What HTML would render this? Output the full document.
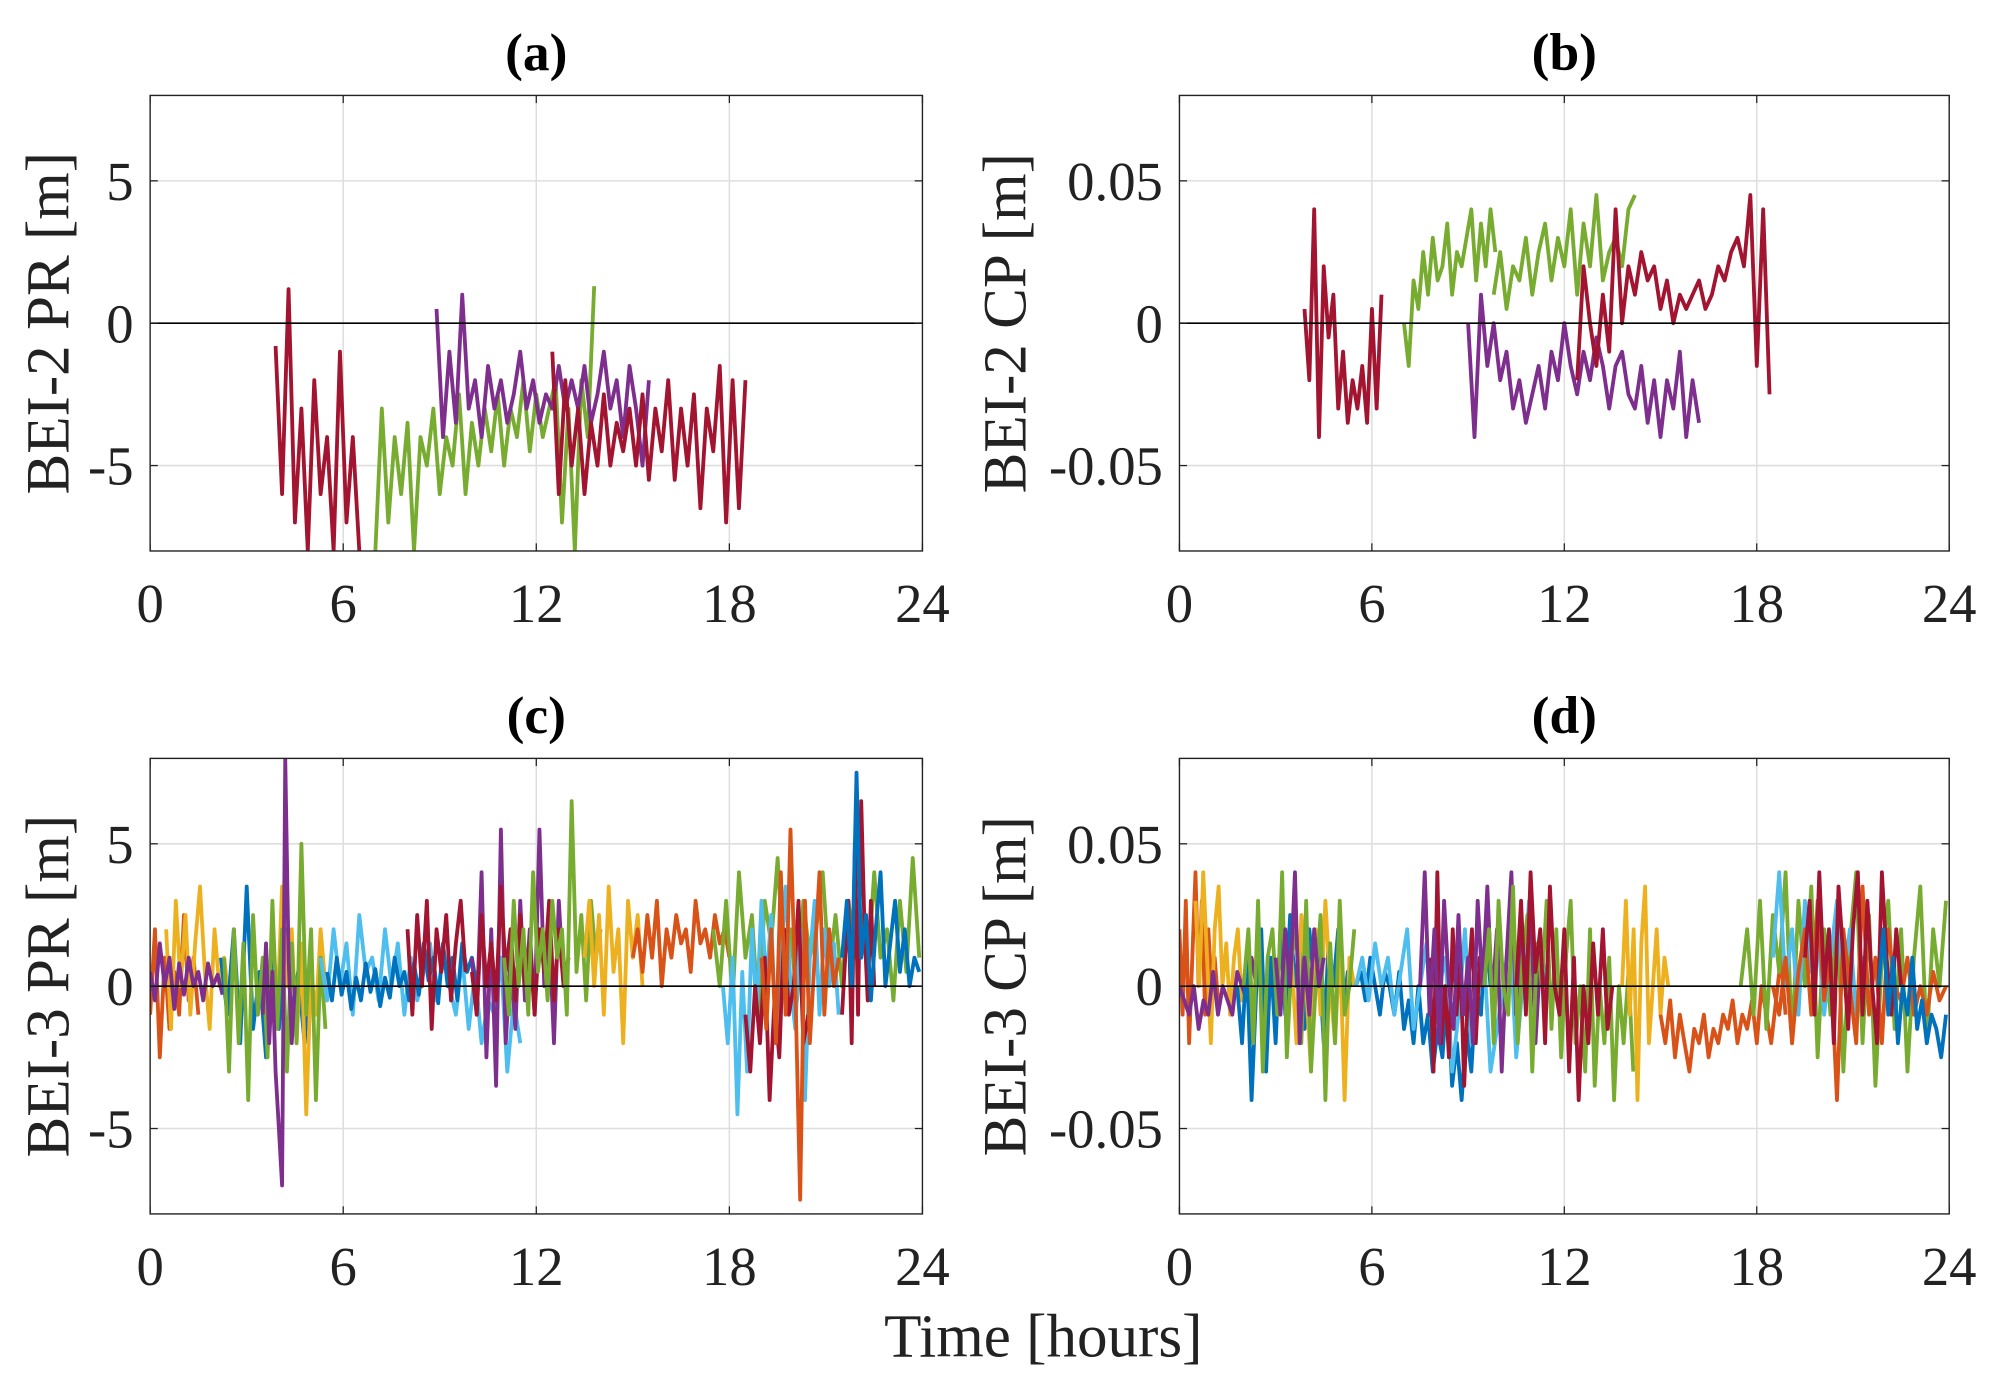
<!DOCTYPE html>
<html><head><meta charset="utf-8"><style>
html,body{margin:0;padding:0;background:#fff;}
svg{display:block;font-family:"Liberation Serif",serif;}
</style></head><body>
<svg id="fig" width="1995" height="1373" viewBox="0 0 1568 1079" preserveAspectRatio="none" xmlns="http://www.w3.org/2000/svg"></svg>
<script>
// ===== Data (hours / metres) =====
const xTicks = [0, 6, 12, 18, 24];
const prTicks = [-5, 0, 5];
const prTickLabels = ["-5", "0", "5"];
const cpTicks = [-0.05, 0, 0.05];
const cpTickLabels = ["-0.05", "0", "0.05"];
const panelTitles = ["(a)", "(b)", "(c)", "(d)"];
const yLabels = ["BEI-2 PR [m]", "BEI-2 CP [m]", "BEI-3 PR [m]", "BEI-3 CP [m]"];

const C = {blue:"#0072BD",orange:"#D95319",yellow:"#EDB120",purple:"#7E2F8E",green:"#77AC30",lblue:"#4DBEEE",red:"#A2142F"};

const a_red1 = [-0.8,-6,1.2,-7,-3,-8,-2,-6,-4,-8,-1,-7,-4,-8];
const a_green1 = [-8,-3,-7,-4,-6,-3.5,-8,-4,-5,-3,-6,-4,-5,-2.5,-6,-3.5,-5,-3,-4.5,-2.5,-5,-3,-4,-2,-4.5,-2.5,-4,-3,-2,-7,-3,-8,-2,-4,1.3];
const a_purple = [0.5,-4,-1,-3.5,1,-3,-2,-4,-1.5,-3,-2,-3.5,-2.5,-1,-3,-2,-3.5,-2.5,-3,-1.5,-3,-2,-3,-1.5,-3.5,-2.5,-1,-3,-2,-4,-1.5,-3,-5,-2];
const a_red2 = [-1,-6,-2,-5,-3,-6,-3.5,-5,-2.5,-5,-3.5,-4.5,-3,-5,-2.5,-5.5,-3,-4.5,-2,-5.5,-3,-5,-2.5,-6.5,-3,-4.5,-1.5,-7,-2,-6.5,-2];

const b_red1 = [0.005,-0.02,0.04,-0.04,0.02,-0.005,0.01,-0.03,-0.01,-0.035,-0.02,-0.03,-0.015,-0.035,0.005,-0.03,0.01];
const b_green1 = [0.0,-0.015,0.015,0.005,0.025,0.01,0.03,0.015,0.02,0.035,0.01,0.025,0.02,0.03,0.04,0.015,0.035,0.02,0.04,0.025];
const b_purple = [0.0,-0.04,0.01,-0.015,0.0,-0.02,-0.01,-0.03,-0.02,-0.035,-0.025,-0.015,-0.03,-0.01,-0.02,0.0,-0.015,-0.025,-0.01,-0.02,-0.005,-0.015,-0.03,-0.015,-0.01,-0.025,-0.03,-0.015,-0.035,-0.02,-0.04,-0.02,-0.03,-0.01,-0.04,-0.02,-0.035];
const b_green2 = [0.01,0.025,0.005,0.02,0.015,0.03,0.01,0.025,0.035,0.015,0.03,0.02,0.04,0.01,0.035,0.02,0.045,0.015,0.025,0.03,0.02,0.04,0.045];
const b_red2 = [-0.02,0.02,0.0,-0.015,0.01,-0.01,0.04,0.0,0.02,0.01,0.025,0.015,0.02,0.005,0.015,0.0,0.01,0.005,0.01,0.015,0.005,0.01,0.02,0.015,0.025,0.03,0.02,0.045,-0.015,0.04,-0.025];

const c_orange1 = [-1,2,-2.5,1,-1.5,0.5,-1,2.5,-0.5,1,-1];
const c_yellow1 = [2,-1.5,3,0,2.5,-1,1.5,3.5,0.5,-1.5,2,0,1,-0.5];
const c_purple1 = [0.5,-0.5,1.5,0,1,-0.8,0.8,-0.3,1,0,0.5,-0.5,0.8,0,0.4,-0.3];
const c_blue1 = [1,-1,2,-2,3.5,-1.5,0.5,-2.5,1,-1.5,2,-1,0.5,-2,1];
const c_yellow2 = [2.5,-1,3.5,0,2,-2,1.5,-4.5,0.5,-1,2,0];
const c_green1 = [1,-3,2,-2,1.5,-4,2.5,-1,1,-2.5,3,-1.5,2,-3,1.5,-2,5,-1,2,-4,1,-1.5];
const c_purple2 = [-1,1.5,-2,0.5,-3,-5,-7,8,1,-2,0];
const c_lblue1 = [1,-0.5,2,0,1.5,-1,2.5,0.5,1,-0.5,2,0,1.5,-1,1,-0.5,0.5,1.5,-0.5,1,0,-1,1,-1.5,0.5,-2,-0.5,-1,1,-3,-0.5,-2];
const c_blue2 = [0.5,-0.5,1,-0.3,0.5,-0.8,0.3,-0.5,0.8,-0.2,0.6,-0.7,0.3,-0.4,1,0,0.5,-0.5,0.8,-0.3,1.5,0.2,1,-0.6,1.5,0,1,-0.5,1.5,0.5,1,0];
const c_red1 = [2,-1,2.5,0,3,-1.5,2,0.5,2.5,-0.5,1.5,3,0.5];
const c_purple3 = [1,-1,4,-2.5,2,-3.5,5.5,-2,1,-1.5,3,-0.5,2,-1,5.5,0,2,-2,3,0,1];
const c_red2 = [0.5,-1,2.5,0,1.5,-0.5,3.5,0.5,2,-0.5,2.5,0,1.5,-1,2,0.5,3,-0.5,2,0,1];
const c_green2 = [1,-1,3,0,2,-1,4,0.5,2,-0.5,3,1,2,-1,6.5,0.5,2.5,-0.5,3,1,2];
const c_yellow3 = [1,3,0,2.5,-1,3.5,0.5,2,-2,3,1,2.5,0];
const c_orange2 = [1,2,0.5,2.5,1,3,0,2,1,2.5,1.5,2,0.5,3,1.5,2,1,2.5,1.5,2,1];
const c_green3 = [2,0,3,-0.5,4,1,2.5,-1,3,1.5,4.5,0.5,2,-0.5,3,1,2,4,0.5,2.5,0,3,1,2.5,0.5,4,1,2,-0.5,3,0.5,4.5,1];
const c_lblue2 = [0,-2,1,-4.5,0.5,-3,2,-1,3,0,2.5,-2,1,3.5,0,-1.5,2,-4,1,3,-1,2,0,1.5,-1];
const c_red3 = [-1,-3,0,-2,1,-4,-0.5,-2.5,2,-1,0,3,-2,-1];
const c_orange3 = [1,-1.5,2,-2,4,-1,5.5,0,-7.5,3,-2,1,4,-1,2,0,1];
const c_red4 = [-1,1,3,-2,5,-1,6.5,2,-0.5,3,0];
const c_blue3 = [1,3,0,7.5,1,2.5,-0.5,2,4,0,1.5,3,0.5,2,0,1,0.5];

const d_orange1 = [0.02,-0.01,0.03,-0.02,0.01,0.04,0.0,0.03,-0.01,0.02,0.0,0.01,-0.005];
const d_yellow1 = [0.03,0.0,0.04,0.01,-0.02,0.02,0.035,0.0,0.015,-0.01,0.01,0.02,-0.005,0.0,0.01,-0.01,0.005];
const d_purple1 = [0.0,-0.005,-0.01,0.0,-0.015,-0.005,-0.01,0.005,-0.01,0.0,-0.005,-0.01,0.005,0.0,-0.005,0.01,0.0];
const d_blue1 = [0.0,-0.02,0.01,-0.04,0.0,0.02,-0.03,0.01,-0.02,0.02,-0.01,0.025,0.0,0.015,-0.015,0.02,0.0,0.01,-0.02,0.015,0.0,0.02,-0.01,0.005,0.0];
const d_yellow2 = [0.01,-0.02,0.025,0.0,-0.03,0.02,-0.01,0.03,0.0,-0.02,0.015,-0.04,0.01,0.0];
const d_green1 = [0.0,0.02,-0.02,0.03,-0.03,0.01,0.02,-0.01,0.04,-0.025,0.01,0.02,-0.02,0.03,-0.03,0.0,0.025,-0.04,0.015,-0.02,0.03,-0.01,0.0,0.02];
const d_purple2 = [0.01,-0.01,0.02,0.0,0.04,-0.02,0.01,-0.01,0.02,0.0,0.01];
const d_blue2 = [0.0,0.005,-0.005,0.01,0.0,-0.01,0.005,0.0,-0.01,0.005,-0.015,-0.005,-0.02,0.0,-0.02,-0.01,-0.03,-0.015,-0.025,0.0,-0.035,-0.02,-0.04,-0.015,-0.03,0.0,-0.01,0.02,0.0];
const d_lblue1 = [0.0,0.01,-0.005,0.015,0.0,0.01,-0.01,0.005,0.02,-0.015,0.0,0.015,-0.02,0.0,0.01,-0.03,-0.01,0.02,-0.02,0.0,0.01,-0.03,-0.015,0.0,0.02,-0.025,0.0,0.03,-0.01,0.01,0.0];
const d_red1 = [0.01,-0.03,0.04,-0.02,0.0,-0.025,0.02,-0.01,0.01,-0.035,0.0,0.02,-0.02,0.01,0.0];
const d_purple3 = [0.0,0.04,-0.01,0.02,-0.02,0.03,0.0,-0.015,0.025,-0.01,0.01,-0.02,0.03,0.0,0.035,-0.005,0.02,-0.03,0.01,0.04,-0.01,0.02,0.0,0.03,-0.02,0.01,0.0];
const d_green2 = [0.0,0.02,-0.02,0.03,0.0,-0.01,0.035,-0.02,0.01,0.025,-0.03,0.015,0.0,0.03,-0.015,0.02,-0.025,0.01,0.03,-0.02,0.0,-0.03,0.02,-0.035,0.0,-0.02,0.01,-0.04,0.0,-0.02,0.005,-0.03];
const d_red2 = [0.0,0.03,-0.01,0.04,0.005,0.02,-0.02,0.035,0.0,-0.01,0.02,-0.03,0.01,-0.04,0.0,-0.02,0.015,-0.01,0.02,-0.015,0.0];
const d_yellow3 = [0.0,0.03,-0.01,0.02,-0.04,0.015,0.035,-0.02,0.0,0.02,-0.01,0.01,0.0];
const d_orange2 = [-0.01,-0.02,-0.005,-0.025,-0.01,-0.02,-0.03,-0.015,-0.02,-0.01,-0.025,-0.015,-0.02,-0.01,-0.015,-0.005,-0.02,-0.01,-0.015,-0.005,-0.02,0.0,-0.01,-0.02,-0.005,0.01,-0.01];
const d_green3 = [0.0,0.02,-0.01,0.03,-0.015,0.025,0.005,0.04,-0.02,0.03,0.0,0.035,-0.025,0.02,-0.01,0.03,-0.03,0.015,0.04,-0.02,0.025,-0.035,0.01,0.03,-0.015,0.02,-0.03,0.01,0.035,-0.02,0.02,0.0,0.03];
const d_lblue2 = [0.01,0.04,0.0,0.02,-0.01,0.03,0.005,0.02,-0.01,0.01,0.03,0.0,0.02,-0.01,0.01,0.0];
const d_orange3 = [0.0,-0.01,0.01,-0.02,0.005,0.02,-0.01,0.03,-0.005,0.01,-0.04,0.02,0.0,-0.02,0.035,-0.01,0.01,-0.02,0.02,0.0,-0.005,0.01,-0.01,0.0,-0.01,0.005,-0.005,0.0];
const d_red3 = [0.01,0.03,-0.01,0.04,0.0,0.02,-0.02,0.035,0.01,-0.015,0.02,0.04,-0.01,0.03,0.0,-0.02,0.04,0.01,-0.01,0.02,0.0];
const d_blue3 = [0.0,0.02,-0.01,0.01,-0.02,0.0,-0.01,0.01,-0.015,-0.005,-0.02,-0.01,-0.015,-0.025,-0.01];

const panels = [
 {name:"a", x0:118,x1:725,y0:75,y1:433, ymax:8, ticks:prTicks, tl:prTickLabels, yoff:80, segs:[
  ["red",3.9,0.2,a_red1],["green",7.0,0.2,a_green1],["purple",8.9,0.2,a_purple],["red",12.5,0.2,a_red2]]},
 {name:"b", x0:927,x1:1532,y0:75,y1:433, ymax:0.08, ticks:cpTicks, tl:cpTickLabels, yoff:137, segs:[
  ["red",3.9,0.15,b_red1],["green",7.0,0.15,b_green1],["purple",9.0,0.2,b_purple],["green",9.8,0.2,b_green2],["red",12.4,0.2,b_red2]]},
 {name:"c", x0:118,x1:725,y0:596,y1:954, ymax:8, ticks:prTicks, tl:prTickLabels, yoff:80, segs:[
  ["orange",0,0.15,c_orange1],["yellow",0.5,0.15,c_yellow1],["purple",0,0.15,c_purple1],["blue",2.2,0.2,c_blue1],
  ["yellow",3.8,0.15,c_yellow2],["green",2.3,0.15,c_green1],["purple",3.5,0.1,c_purple2],["lblue",5.3,0.2,c_lblue1],
  ["blue",5.5,0.15,c_blue2],["red",8,0.15,c_red1],["purple",10,0.15,c_purple3],["red",10,0.15,c_red2],
  ["green",11,0.15,c_green2],["yellow",13.5,0.15,c_yellow3],["orange",15,0.15,c_orange2],["green",17.5,0.2,c_green3],
  ["lblue",17.8,0.15,c_lblue2],["red",18.5,0.15,c_red3],["orange",19,0.15,c_orange3],["red",21.5,0.1,c_red4],["blue",21.5,0.15,c_blue3]]},
 {name:"d", x0:927,x1:1532,y0:596,y1:954, ymax:0.08, ticks:cpTicks, tl:cpTickLabels, yoff:137, segs:[
  ["orange",0,0.1,d_orange1],["yellow",0.5,0.12,d_yellow1],["purple",0,0.15,d_purple1],["blue",1.8,0.15,d_blue1],
  ["yellow",3.5,0.15,d_yellow2],["green",2,0.15,d_green1],["purple",3,0.15,d_purple2],["blue",5.5,0.15,d_blue2],
  ["lblue",5.5,0.2,d_lblue1],["red",7.8,0.12,d_red1],["purple",7.5,0.15,d_purple3],["green",9.5,0.15,d_green2],
  ["red",10.5,0.15,d_red2],["yellow",13.8,0.12,d_yellow3],["orange",15,0.15,d_orange2],["green",17.5,0.2,d_green3],
  ["lblue",18.5,0.2,d_lblue2],["orange",18.5,0.2,d_orange3],["red",19.5,0.15,d_red3],["blue",21.8,0.15,d_blue3]]}
];

const NS="http://www.w3.org/2000/svg";
const svg=document.getElementById('fig');
function mk(tag,attrs,parent){const e=document.createElementNS(NS,tag);for(const k in attrs)e.setAttribute(k,attrs[k]);(parent||svg).appendChild(e);return e;}

panels.forEach((p,pi)=>{
  const g=mk('g',{});
  
  
  const sx=h=>p.x0+(p.x1-p.x0)*h/24;
  const sy=v=>(p.y0+p.y1)/2-v*(p.y1-p.y0)/(2*p.ymax);
  mk('rect',{x:p.x0,y:p.y0,width:p.x1-p.x0,height:p.y1-p.y0,fill:'#fff'},g);
  xTicks.slice(1,-1).forEach(t=>{const l=mk('line',{x1:sx(t),x2:sx(t),y1:p.y0,y2:p.y1,stroke:'#dedede','stroke-width':1.2},g);
    
    });
  p.ticks.forEach(t=>{const l=mk('line',{x1:p.x0,x2:p.x1,y1:sy(t),y2:sy(t),stroke:'#dedede','stroke-width':1.2},g);
    
    });
  const cid='clip'+p.name;
  const cp=mk('clipPath',{id:cid},g);
  mk('rect',{x:p.x0,y:p.y0,width:p.x1-p.x0,height:p.y1-p.y0},cp);
  const dg=mk('g',{'clip-path':'url(#'+cid+')'},g);
  p.segs.forEach((s,si)=>{
    const pts=s[3].map((v,i)=>sx(s[1]+i*s[2]).toFixed(1)+','+sy(v).toFixed(1)).join(' ');
    const pl=mk('polyline',{points:pts,fill:'none',stroke:C[s[0]],'stroke-width':3,'stroke-linejoin':'round'},dg);
    
    
  });
  const zl=mk('line',{x1:p.x0,x2:p.x1,y1:sy(0),y2:sy(0),stroke:'#000','stroke-width':1.3},g);
  
  
  const box=mk('rect',{x:p.x0,y:p.y0,width:p.x1-p.x0,height:p.y1-p.y0,fill:'none',stroke:'#222','stroke-width':1.1},g);
  
  
  xTicks.forEach(t=>{
    mk('line',{x1:sx(t),x2:sx(t),y1:p.y1,y2:p.y1-6,stroke:'#222'},g);
    mk('line',{x1:sx(t),x2:sx(t),y1:p.y0,y2:p.y0+6,stroke:'#222'},g);
    const tx=mk('text',{x:sx(t),y:p.y1+56,'text-anchor':'middle','font-size':43,fill:'#222'},g);
    tx.textContent=String(t);
    
    
  });
  p.ticks.forEach((t,i)=>{
    mk('line',{x1:p.x0,x2:p.x0+6,y1:sy(t),y2:sy(t),stroke:'#222'},g);
    mk('line',{x1:p.x1,x2:p.x1-6,y1:sy(t),y2:sy(t),stroke:'#222'},g);
    const tx=mk('text',{x:p.x0-13,y:sy(t)+15,'text-anchor':'end','font-size':43,fill:'#222'},g);
    tx.textContent=p.tl[i];
    
    
  });
  const ti=mk('text',{x:(p.x0+p.x1)/2,y:p.y0-20,'text-anchor':'middle','font-size':42,'font-weight':'bold',fill:'#000'},g);
  ti.textContent=panelTitles[pi];
  
  
  const yx=p.x0-p.yoff+16, yy=(p.y0+p.y1)/2;
  const yl=mk('text',{x:yx,y:yy,'text-anchor':'middle','font-size':48,fill:'#222',transform:'rotate(-90 '+yx+' '+yy+')'},g);
  yl.textContent=yLabels[pi];
  
  
});
const xt=mk('text',{x:820,y:1066,'text-anchor':'middle','font-size':48,fill:'#222'});
xt.textContent='Time [hours]';


</script>
</body></html>
